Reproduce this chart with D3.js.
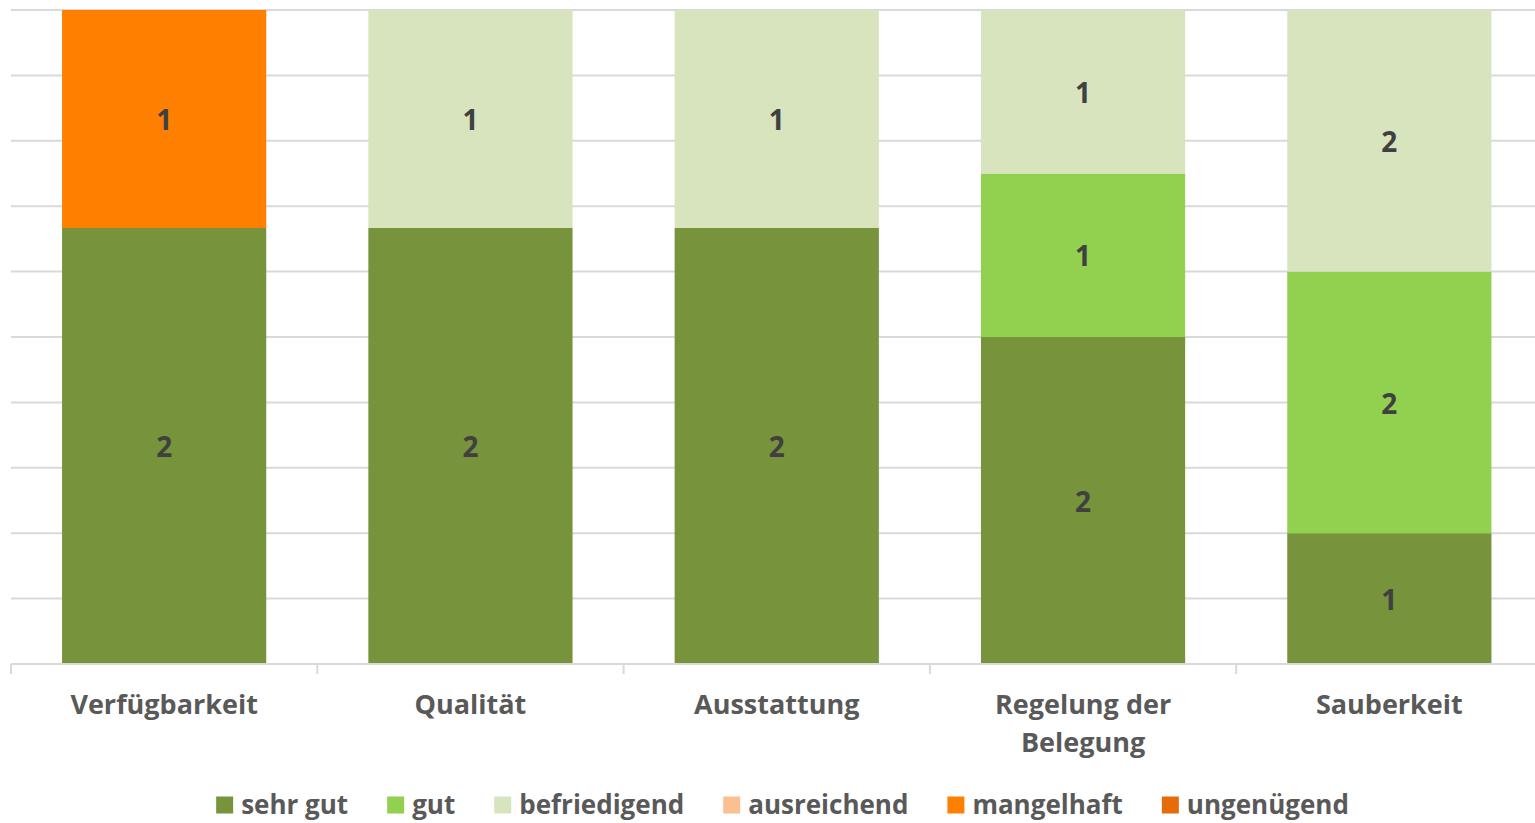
<!DOCTYPE html>
<html>
<head>
<meta charset="utf-8">
<script src="https://cdn.jsdelivr.net/npm/d3@7"></script>
<style>
html,body{margin:0;padding:0;background:#fff;}
svg{display:block;}
text{font-family:"Open Sans",sans-serif;font-weight:700;}
</style>
</head>
<body>
<svg id="chart" width="1535" height="823"></svg>
<script>
const categories = [["Verfügbarkeit"],["Qualität"],["Ausstattung"],["Regelung der","Belegung"],["Sauberkeit"]];
const seriesNames = ["sehr gut","gut","befriedigend","ausreichend","mangelhaft","ungenügend"];
const seriesColors = ["#77933C","#92D050","#D7E4BD","#FAC090","#FF8000","#E46C0A"];
const sehrGut = [2,2,2,2,1];
const gut = [0,0,0,1,2];
const befriedigend = [0,1,1,1,2];
const ausreichend = [0,0,0,0,0];
const mangelhaft = [1,0,0,0,0];
const ungenuegend = [0,0,0,0,0];
const yTicks = [0,0.1,0.2,0.3,0.4,0.5,0.6,0.7,0.8,0.9,1];

const seriesValues = [sehrGut,gut,befriedigend,ausreichend,mangelhaft,ungenuegend];
const catKeys = categories.map(c=>c.join(" "));
const rows = catKeys.map((k,i)=>{
  const r = {cat:k};
  const total = d3.sum(seriesValues, s=>s[i]);
  seriesNames.forEach((n,j)=>{ r[n]=seriesValues[j][i]/total; r[n+"_raw"]=seriesValues[j][i]; });
  return r;
});
const stack = d3.stack().keys(seriesNames)(rows);

const svg = d3.select("#chart");
const x = d3.scaleBand().domain(catKeys).range([11,1542.5]).paddingInner(1/3).paddingOuter(1/6);
const y = d3.scaleLinear().domain([0,1]).range([664,10]);

// gridlines
svg.append("g").selectAll("line").data(yTicks.slice(1)).join("line")
  .attr("x1",11).attr("x2",1542.5)
  .attr("y1",d=>y(d)).attr("y2",d=>y(d))
  .attr("stroke","#D9D9D9").attr("stroke-width",2);

// bars
const layers = svg.append("g").selectAll("g").data(stack).join("g")
  .attr("fill",(d,i)=>seriesColors[i]);
layers.selectAll("rect").data(d=>d.filter(p=>p[1]-p[0]>0)).join("rect")
  .attr("x",d=>x(d.data.cat))
  .attr("width",x.bandwidth())
  .attr("y",d=>y(d[1]))
  .attr("height",d=>y(d[0])-y(d[1]));

// data labels
stack.forEach((layer,i)=>{
  svg.append("g").selectAll("text").data(layer.filter(p=>p[1]-p[0]>0)).join("text")
    .attr("x",d=>x(d.data.cat)+x.bandwidth()/2)
    .attr("y",d=>(y(d[0])+y(d[1]))/2)
    .attr("dy","0.4em")
    .attr("text-anchor","middle")
    .attr("font-size",28)
    .attr("fill","#404040")
    .text(d=>d.data[seriesNames[i]+"_raw"]);
});

// x axis
const ax = svg.append("g");
ax.append("line").attr("x1",11).attr("x2",1542.5).attr("y1",664).attr("y2",664)
  .attr("stroke","#D9D9D9").attr("stroke-width",2);
const step = x.step();
ax.selectAll("line.tick").data(d3.range(catKeys.length+1)).join("line").attr("class","tick")
  .attr("x1",i=>x.range()[0]+i*step).attr("x2",i=>x.range()[0]+i*step)
  .attr("y1",664).attr("y2",674)
  .attr("stroke","#D9D9D9").attr("stroke-width",2);
const lbl = ax.selectAll("text.cat").data(categories).join("text").attr("class","cat")
  .attr("x",(d,i)=>x(catKeys[i])+x.bandwidth()/2)
  .attr("y",714)
  .attr("text-anchor","middle")
  .attr("font-size",27)
  .attr("fill","#595959");
lbl.selectAll("tspan").data(d=>d).join("tspan")
  .attr("x",function(){return d3.select(this.parentNode).attr("x");})
  .attr("dy",(d,i)=>i===0?0:38)
  .text(d=>d);

// legend
const lg = svg.append("g");
const items = lg.selectAll("g").data(seriesNames).join("g");
items.append("rect").attr("width",17).attr("height",17).attr("y",-8.5)
  .attr("fill",(d,i)=>seriesColors[i]);
items.append("text").attr("x",25).attr("y",0).attr("dy","0.36em")
  .attr("font-size",26).attr("fill","#595959").text(d=>d);
const widths = [];
items.each(function(){ const w = d3.select(this).select("text").node().getComputedTextLength(); widths.push(w); });
const totalW = d3.sum(widths.map(w=>25+w)) + 39*(widths.length-1);
let start = 782.5 - totalW/2;
items.attr("transform",(d,i)=>{ const t = `translate(${start},805)`; start += 25+widths[i]+39; return t; });
</script>
</body>
</html>
